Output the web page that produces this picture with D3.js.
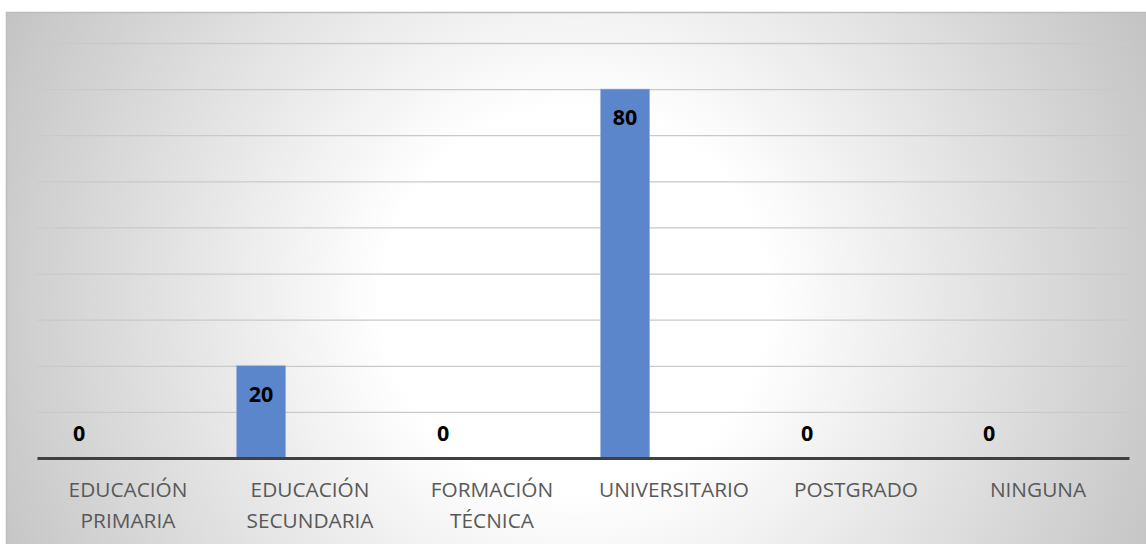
<!DOCTYPE html>
<html>
<head>
<meta charset="utf-8">
<script src="https://cdn.jsdelivr.net/npm/d3@7"></script>
<style>
  html, body { margin: 0; padding: 0; background: #fff; }
  svg { display: block; }
</style>
</head>
<body>
<div id="chart"></div>
<script>
// data
var categories = [
  ["EDUCACIÓN", "PRIMARIA"],
  ["EDUCACIÓN", "SECUNDARIA"],
  ["FORMACIÓN", "TÉCNICA"],
  ["UNIVERSITARIO"],
  ["POSTGRADO"],
  ["NINGUNA"]
];
var values = [0, 20, 0, 80, 0, 0];
var yTicks = [0, 10, 20, 30, 40, 50, 60, 70, 80, 90];
var seriesSlots = ["s1", "s2", "s3"]; // clustered layout, only first has data

var W = 1146, H = 544;
var margin = {top: 43, right: 17, bottom: 86, left: 37},
    width = W - margin.left - margin.right,
    height = H - margin.top - margin.bottom;

var svg = d3.select("#chart").append("svg")
    .attr("width", W)
    .attr("height", H);

// background with radial gradient
var defs = svg.append("defs");
var grad = defs.append("radialGradient")
    .attr("id", "bg")
    .attr("gradientUnits", "userSpaceOnUse")
    .attr("cx", 575).attr("cy", 300)
    .attr("r", 640);
grad.append("stop").attr("offset", "0").attr("stop-color", "#ffffff");
grad.append("stop").attr("offset", "0.3").attr("stop-color", "#ffffff");
grad.append("stop").attr("offset", "1").attr("stop-color", "#c3c3c3");

svg.append("rect")
    .attr("x", 6.5).attr("y", 12.5)
    .attr("width", W + 10).attr("height", H + 10)
    .attr("fill", "url(#bg)")
    .attr("stroke", "#bdbdbd")
    .attr("stroke-width", 1.5);

var g = svg.append("g")
    .attr("transform", "translate(" + margin.left + "," + margin.top + ")");

var keys = categories.map(function(d) { return d.join(" "); });

var x = d3.scaleBand()
    .domain(keys)
    .range([0, width])
    .paddingInner(0)
    .paddingOuter(0);

var xs = d3.scaleBand()
    .domain(seriesSlots)
    .range([0, x.bandwidth()])
    .paddingInner(0)
    .paddingOuter(0.36);

var y = d3.scaleLinear()
    .domain([0, 90])
    .range([height, 0]);

// gridlines
g.append("g")
    .attr("class", "grid")
    .call(d3.axisLeft(y).tickValues(yTicks).tickSize(-width).tickFormat(""))
    .call(function(s) { s.select(".domain").remove(); })
    .selectAll("line")
    .attr("stroke", "#c9c9c9")
    .attr("stroke-width", 1.3);

// bars
g.selectAll(".bar")
    .data(values)
    .enter().append("rect")
    .attr("class", "bar")
    .attr("x", function(d, i) { return x(keys[i]) + xs("s1"); })
    .attr("width", xs.bandwidth())
    .attr("y", function(d) { return y(d); })
    .attr("height", function(d) { return y(0) - y(d); })
    .attr("fill", "#5b86cc")
    .attr("stroke", "#8eaee0")
    .attr("stroke-width", 0.6);

// baseline axis
var xAxis = g.append("g")
    .attr("transform", "translate(0," + height + ")")
    .call(d3.axisBottom(x).tickSize(0).tickFormat(""));
xAxis.select(".domain")
    .attr("stroke", "#404040")
    .attr("stroke-width", 3);

// category labels
var labels = g.selectAll(".cat")
    .data(categories)
    .enter().append("text")
    .attr("class", "cat")
    .attr("text-anchor", "middle")
    .attr("x", function(d, i) { return x(keys[i]) + x.bandwidth() / 2; })
    .attr("y", height + 39)
    .style("font-family", "'Open Sans', sans-serif")
    .style("font-size", "20.8px")
    .style("fill", "#595959");
labels.selectAll("tspan")
    .data(function(d) { return d; })
    .enter().append("tspan")
    .attr("x", function() { return d3.select(this.parentNode).attr("x"); })
    .attr("dy", function(d, i) { return i === 0 ? 0 : 31; })
    .text(function(d) { return d; });

// value labels
g.selectAll(".val")
    .data(values)
    .enter().append("text")
    .attr("class", "val")
    .attr("text-anchor", "middle")
    .attr("x", function(d, i) { return x(keys[i]) + xs("s1") + xs.bandwidth() / 2; })
    .attr("y", function(d) { return d > 0 ? y(d) + 36 : y(0) - 17; })
    .style("font-family", "'Open Sans', sans-serif")
    .style("font-weight", "bold")
    .style("font-size", "21.5px")
    .style("fill", "#000")
    .text(function(d) { return d; });
</script>
</body>
</html>
